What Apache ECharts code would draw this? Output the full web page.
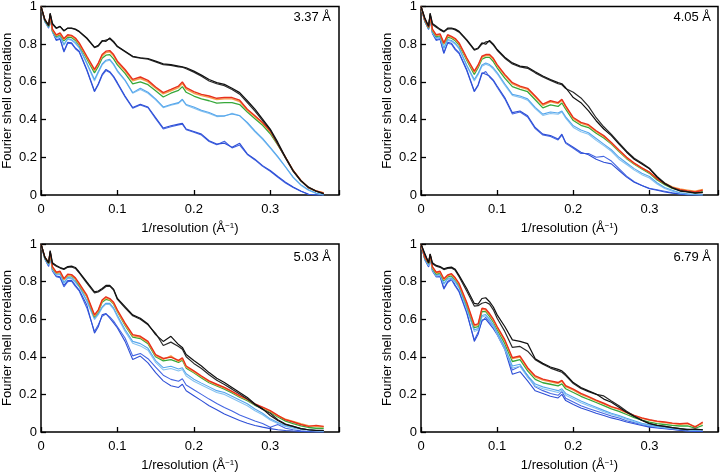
<!DOCTYPE html>
<html><head><meta charset="utf-8">
<script src="https://cdn.jsdelivr.net/npm/echarts@6/dist/echarts.min.js"></script>
<style>html,body{margin:0;padding:0;background:#fff}#c{width:721px;height:473px}</style>
</head><body><div id="c"></div>
<script>
// shared x positions (1/resolution, 1/Å)
const xs = [0,0.005,0.01,0.012,0.015,0.02,0.025,0.03,0.035,0.04,0.045,0.05,
  0.06,0.07,0.075,0.08,0.085,0.09,0.095,0.1,
  0.11,0.12,0.13,0.14,0.15,0.16,0.17,0.18,0.185,0.19,
  0.2,0.21,0.22,0.23,0.24,0.25,0.26,0.27,0.28,0.29,0.3,0.31,0.32,0.33,0.34,0.35,0.36,0.37];

const panelTitles = ['3.37 Å','4.05 Å','5.03 Å','6.79 Å'];
const xTickValues = [0,0.1,0.2,0.3];
const yTickValues = [0,0.2,0.4,0.6,0.8,1];

// ---- Panel 1 (3.37 Å)
const p1Black1 = [1.0,0.93,0.9,0.965,0.91,0.886,0.895,0.872,0.886,0.886,0.88,0.868,
  0.833,0.784,0.794,0.819,0.815,0.833,0.815,0.789,
  0.763,0.736,0.728,0.724,0.71,0.696,0.692,0.684,0.68,0.675,
  0.657,0.636,0.613,0.596,0.587,0.566,0.543,0.5,0.455,0.402,0.35,0.279,0.2,0.13,0.077,0.042,0.021,0.007];
const p1Black2 = [1.0,0.93,0.9,0.96,0.905,0.884,0.893,0.87,0.884,0.884,0.878,0.866,
  0.83,0.782,0.79,0.815,0.822,0.828,0.81,0.786,
  0.76,0.733,0.726,0.72,0.706,0.692,0.688,0.68,0.678,0.67,
  0.652,0.63,0.605,0.59,0.58,0.56,0.535,0.49,0.445,0.395,0.345,0.27,0.195,0.125,0.075,0.04,0.02,0.006];
const p1Red = [1.0,0.93,0.9,0.96,0.88,0.85,0.86,0.83,0.85,0.847,0.833,0.807,
  0.736,0.666,0.7,0.745,0.763,0.766,0.745,0.71,
  0.666,0.613,0.626,0.608,0.573,0.543,0.56,0.578,0.6,0.569,
  0.548,0.534,0.525,0.513,0.517,0.517,0.503,0.455,0.42,0.385,0.34,0.27,0.2,0.13,0.077,0.039,0.021,0.01];
const p1Orange = [1.0,0.93,0.9,0.955,0.875,0.845,0.855,0.825,0.845,0.842,0.828,0.8,
  0.73,0.66,0.694,0.738,0.756,0.76,0.738,0.703,
  0.658,0.606,0.618,0.6,0.566,0.536,0.553,0.57,0.592,0.562,
  0.54,0.527,0.518,0.506,0.51,0.51,0.496,0.45,0.415,0.38,0.336,0.268,0.198,0.13,0.078,0.04,0.022,0.012];
const p1Green = [1.0,0.925,0.895,0.95,0.87,0.84,0.85,0.818,0.838,0.835,0.82,0.795,
  0.722,0.648,0.682,0.725,0.742,0.745,0.722,0.69,
  0.645,0.59,0.6,0.585,0.553,0.52,0.54,0.555,0.575,0.545,
  0.525,0.51,0.5,0.487,0.49,0.49,0.48,0.44,0.405,0.37,0.325,0.265,0.2,0.13,0.075,0.038,0.02,0.01];
const p1Light1 = [1.0,0.925,0.89,0.945,0.865,0.835,0.842,0.8,0.83,0.824,0.808,0.785,
  0.7,0.613,0.655,0.695,0.715,0.72,0.695,0.66,
  0.61,0.543,0.566,0.545,0.51,0.467,0.48,0.49,0.508,0.48,
  0.467,0.45,0.438,0.42,0.42,0.43,0.42,0.385,0.34,0.3,0.253,0.204,0.15,0.095,0.055,0.028,0.01,0.0];
const p1Light2 = [1.0,0.92,0.89,0.94,0.862,0.832,0.838,0.795,0.826,0.82,0.803,0.78,
  0.695,0.605,0.648,0.69,0.71,0.715,0.69,0.655,
  0.606,0.54,0.56,0.54,0.505,0.463,0.476,0.486,0.503,0.476,
  0.46,0.445,0.432,0.416,0.418,0.434,0.422,0.38,0.335,0.295,0.248,0.2,0.147,0.092,0.052,0.025,0.008,0.0];
const p1Blue1 = [1.0,0.92,0.89,0.95,0.87,0.824,0.83,0.763,0.81,0.807,0.78,0.763,
  0.666,0.552,0.59,0.64,0.666,0.654,0.63,0.596,
  0.525,0.464,0.482,0.467,0.411,0.355,0.367,0.376,0.38,0.35,
  0.337,0.323,0.288,0.27,0.275,0.253,0.274,0.218,0.19,0.156,0.13,0.098,0.068,0.042,0.021,0.004,0.0,0.0];
const p1Blue2 = [1.0,0.92,0.885,0.945,0.865,0.82,0.826,0.758,0.805,0.803,0.776,0.758,
  0.66,0.548,0.585,0.634,0.66,0.65,0.625,0.59,
  0.52,0.46,0.478,0.463,0.405,0.35,0.362,0.372,0.376,0.346,
  0.333,0.318,0.284,0.266,0.285,0.25,0.265,0.215,0.186,0.152,0.126,0.094,0.064,0.04,0.02,0.004,0.0,0.0];

// ---- Panel 2 (4.05 Å)
const p2Black1 = [1.0,0.94,0.895,0.965,0.91,0.895,0.88,0.868,0.885,0.886,0.88,0.868,
  0.824,0.772,0.78,0.807,0.8,0.82,0.8,0.772,
  0.731,0.701,0.684,0.678,0.654,0.631,0.613,0.596,0.59,0.569,
  0.517,0.49,0.446,0.394,0.35,0.315,0.27,0.227,0.19,0.165,0.139,0.095,0.06,0.037,0.021,0.016,0.01,0.014];
const p2Black2 = [1.0,0.935,0.895,0.96,0.905,0.89,0.876,0.865,0.88,0.882,0.876,0.864,
  0.82,0.768,0.776,0.8,0.812,0.815,0.795,0.768,
  0.726,0.695,0.68,0.672,0.648,0.626,0.608,0.59,0.585,0.565,
  0.545,0.515,0.47,0.41,0.362,0.322,0.276,0.232,0.195,0.17,0.142,0.098,0.064,0.04,0.024,0.018,0.012,0.012];
const p2Red = [1.0,0.93,0.89,0.955,0.88,0.85,0.855,0.807,0.85,0.842,0.83,0.807,
  0.728,0.657,0.69,0.736,0.745,0.745,0.725,0.692,
  0.64,0.596,0.578,0.566,0.525,0.482,0.5,0.49,0.508,0.473,
  0.411,0.385,0.373,0.341,0.315,0.279,0.239,0.2,0.169,0.144,0.121,0.086,0.06,0.039,0.028,0.021,0.016,0.025];
const p2Orange = [1.0,0.93,0.89,0.95,0.875,0.846,0.85,0.802,0.845,0.838,0.825,0.802,
  0.722,0.65,0.684,0.73,0.74,0.74,0.72,0.686,
  0.634,0.59,0.572,0.56,0.52,0.476,0.494,0.485,0.502,0.468,
  0.405,0.38,0.368,0.336,0.31,0.275,0.235,0.197,0.166,0.142,0.12,0.088,0.063,0.043,0.032,0.026,0.02,0.03];
const p2Green = [1.0,0.925,0.885,0.95,0.87,0.84,0.845,0.8,0.836,0.832,0.818,0.795,
  0.715,0.64,0.675,0.72,0.73,0.73,0.708,0.675,
  0.62,0.575,0.56,0.548,0.505,0.462,0.478,0.47,0.488,0.455,
  0.395,0.37,0.358,0.328,0.302,0.27,0.23,0.193,0.163,0.138,0.115,0.08,0.055,0.035,0.024,0.018,0.012,0.018];
const p2Light1 = [1.0,0.92,0.885,0.945,0.865,0.835,0.84,0.78,0.825,0.82,0.805,0.78,
  0.69,0.613,0.645,0.69,0.7,0.692,0.675,0.65,
  0.59,0.534,0.525,0.51,0.465,0.429,0.44,0.435,0.446,0.415,
  0.367,0.345,0.33,0.3,0.27,0.24,0.2,0.17,0.14,0.115,0.098,0.065,0.04,0.025,0.012,0.006,0.003,0.0];
const p2Light2 = [1.0,0.92,0.882,0.94,0.86,0.83,0.835,0.775,0.82,0.815,0.8,0.775,
  0.684,0.605,0.638,0.683,0.694,0.686,0.668,0.643,
  0.582,0.528,0.518,0.503,0.458,0.422,0.432,0.428,0.44,0.408,
  0.358,0.336,0.322,0.29,0.262,0.232,0.19,0.162,0.132,0.108,0.09,0.058,0.035,0.02,0.01,0.005,0.002,0.0];
const p2Blue1 = [1.0,0.92,0.88,0.945,0.86,0.825,0.83,0.754,0.81,0.805,0.775,0.755,
  0.666,0.552,0.585,0.648,0.64,0.631,0.61,0.578,
  0.517,0.437,0.446,0.42,0.358,0.323,0.315,0.297,0.323,0.279,
  0.253,0.227,0.214,0.19,0.174,0.165,0.13,0.095,0.068,0.05,0.033,0.025,0.016,0.01,0.005,0.0,0.0,0.0];
const p2Blue2 = [1.0,0.92,0.878,0.94,0.856,0.82,0.826,0.75,0.805,0.8,0.77,0.75,
  0.66,0.548,0.58,0.642,0.655,0.626,0.605,0.572,
  0.51,0.43,0.44,0.414,0.352,0.318,0.31,0.292,0.318,0.274,
  0.248,0.22,0.22,0.2,0.205,0.18,0.14,0.1,0.07,0.05,0.036,0.028,0.02,0.012,0.006,0.002,0.0,0.0];

// ---- Panel 3 (5.03 Å)
const p3Black1 = [1.0,0.93,0.9,0.965,0.9,0.886,0.875,0.868,0.88,0.882,0.875,0.851,
  0.798,0.746,0.75,0.763,0.78,0.78,0.76,0.71,
  0.667,0.623,0.605,0.574,0.518,0.482,0.509,0.465,0.45,0.412,
  0.38,0.351,0.316,0.286,0.263,0.237,0.21,0.184,0.149,0.123,0.088,0.061,0.04,0.03,0.018,0.012,0.009,0.009];
const p3Black2 = [1.0,0.93,0.9,0.96,0.895,0.882,0.872,0.865,0.876,0.878,0.87,0.846,
  0.792,0.74,0.745,0.758,0.774,0.776,0.755,0.705,
  0.66,0.618,0.6,0.57,0.525,0.46,0.478,0.455,0.44,0.4,
  0.365,0.338,0.305,0.275,0.253,0.228,0.202,0.176,0.145,0.12,0.1,0.065,0.042,0.03,0.018,0.012,0.008,0.008];
const p3Red = [1.0,0.93,0.9,0.96,0.88,0.85,0.855,0.816,0.84,0.837,0.82,0.79,
  0.728,0.623,0.65,0.702,0.719,0.71,0.69,0.649,
  0.579,0.518,0.509,0.482,0.412,0.391,0.398,0.381,0.395,0.351,
  0.325,0.298,0.272,0.254,0.237,0.216,0.193,0.175,0.149,0.132,0.114,0.088,0.065,0.053,0.04,0.03,0.035,0.03];
const p3Orange = [1.0,0.93,0.9,0.955,0.875,0.846,0.85,0.81,0.835,0.832,0.815,0.785,
  0.722,0.617,0.644,0.696,0.713,0.704,0.684,0.643,
  0.573,0.512,0.503,0.476,0.406,0.386,0.405,0.376,0.388,0.346,
  0.32,0.294,0.268,0.25,0.234,0.213,0.19,0.172,0.146,0.13,0.11,0.085,0.068,0.056,0.044,0.034,0.03,0.028];
const p3Green = [1.0,0.925,0.895,0.95,0.87,0.845,0.85,0.81,0.832,0.83,0.812,0.78,
  0.72,0.612,0.64,0.69,0.705,0.7,0.68,0.64,
  0.567,0.505,0.497,0.47,0.4,0.378,0.385,0.37,0.382,0.34,
  0.315,0.288,0.262,0.245,0.228,0.208,0.185,0.167,0.142,0.125,0.105,0.08,0.058,0.045,0.033,0.024,0.02,0.02];
const p3Light1 = [1.0,0.925,0.89,0.945,0.865,0.84,0.842,0.795,0.822,0.82,0.8,0.775,
  0.7,0.605,0.63,0.665,0.685,0.684,0.66,0.62,
  0.545,0.482,0.47,0.445,0.38,0.342,0.35,0.335,0.342,0.31,
  0.281,0.26,0.24,0.22,0.21,0.19,0.17,0.15,0.122,0.1,0.07,0.05,0.035,0.025,0.018,0.012,0.008,0.005];
const p3Light2 = [1.0,0.92,0.888,0.94,0.86,0.835,0.838,0.79,0.818,0.815,0.795,0.77,
  0.694,0.598,0.624,0.66,0.68,0.678,0.654,0.612,
  0.535,0.472,0.458,0.435,0.37,0.33,0.338,0.325,0.332,0.298,
  0.27,0.25,0.23,0.21,0.2,0.18,0.16,0.14,0.113,0.092,0.064,0.045,0.03,0.02,0.014,0.01,0.006,0.004];
const p3Blue1 = [1.0,0.92,0.885,0.945,0.86,0.83,0.825,0.78,0.805,0.807,0.78,0.755,
  0.675,0.526,0.56,0.623,0.63,0.605,0.58,0.553,
  0.482,0.386,0.404,0.368,0.316,0.272,0.246,0.237,0.254,0.219,
  0.193,0.167,0.14,0.118,0.096,0.079,0.061,0.047,0.035,0.026,0.018,0.012,0.008,0.005,0.003,0.0,0.0,0.0];
const p3Blue2 = [1.0,0.92,0.88,0.94,0.855,0.826,0.82,0.772,0.8,0.802,0.775,0.75,
  0.66,0.535,0.57,0.615,0.628,0.612,0.59,0.56,
  0.5,0.405,0.418,0.39,0.345,0.302,0.28,0.27,0.283,0.25,
  0.225,0.2,0.175,0.152,0.13,0.112,0.09,0.075,0.058,0.045,0.025,0.04,0.02,0.012,0.006,0.003,0.0,0.0];

// ---- Panel 4 (6.79 Å)
const p4Black1 = [1.0,0.95,0.9,0.947,0.9,0.886,0.88,0.868,0.875,0.877,0.865,0.833,
  0.763,0.684,0.68,0.71,0.714,0.693,0.665,0.623,
  0.561,0.49,0.482,0.47,0.39,0.365,0.346,0.333,0.325,0.307,
  0.263,0.237,0.219,0.202,0.175,0.158,0.132,0.105,0.082,0.061,0.044,0.035,0.03,0.023,0.018,0.012,0.016,0.012];
const p4Black2 = [1.0,0.945,0.9,0.945,0.895,0.882,0.876,0.864,0.87,0.872,0.86,0.826,
  0.75,0.67,0.672,0.685,0.69,0.68,0.65,0.605,
  0.535,0.45,0.455,0.43,0.385,0.36,0.34,0.325,0.318,0.3,
  0.258,0.232,0.215,0.2,0.192,0.165,0.14,0.11,0.085,0.064,0.046,0.036,0.03,0.024,0.018,0.014,0.014,0.012];
const p4Red = [1.0,0.93,0.9,0.945,0.88,0.85,0.855,0.815,0.835,0.842,0.82,0.79,
  0.69,0.57,0.575,0.658,0.654,0.63,0.6,0.561,
  0.491,0.395,0.404,0.342,0.298,0.281,0.272,0.263,0.275,0.246,
  0.228,0.205,0.188,0.17,0.153,0.135,0.123,0.105,0.088,0.075,0.065,0.058,0.053,0.047,0.044,0.047,0.026,0.053];
const p4Orange = [1.0,0.93,0.9,0.94,0.875,0.846,0.85,0.81,0.83,0.838,0.815,0.785,
  0.684,0.564,0.57,0.652,0.648,0.624,0.594,0.555,
  0.485,0.39,0.398,0.336,0.292,0.276,0.267,0.258,0.27,0.241,
  0.223,0.2,0.184,0.166,0.15,0.132,0.12,0.102,0.086,0.073,0.063,0.056,0.05,0.045,0.041,0.043,0.03,0.046];
const p4Green = [1.0,0.925,0.895,0.94,0.87,0.84,0.845,0.805,0.825,0.83,0.81,0.78,
  0.675,0.555,0.56,0.64,0.64,0.615,0.585,0.545,
  0.47,0.375,0.385,0.325,0.28,0.262,0.254,0.245,0.256,0.23,
  0.21,0.19,0.173,0.157,0.14,0.123,0.11,0.093,0.077,0.063,0.053,0.045,0.04,0.035,0.032,0.033,0.02,0.035];
const p4Light1 = [1.0,0.92,0.89,0.935,0.865,0.835,0.84,0.79,0.818,0.82,0.8,0.77,
  0.66,0.544,0.55,0.62,0.625,0.6,0.57,0.53,
  0.45,0.351,0.36,0.3,0.255,0.24,0.23,0.22,0.23,0.205,
  0.185,0.165,0.148,0.132,0.115,0.1,0.088,0.073,0.06,0.047,0.038,0.03,0.025,0.02,0.016,0.014,0.01,0.012];
const p4Light2 = [1.0,0.92,0.885,0.93,0.86,0.83,0.835,0.785,0.812,0.815,0.795,0.765,
  0.652,0.535,0.542,0.612,0.618,0.592,0.562,0.52,
  0.44,0.34,0.35,0.29,0.245,0.23,0.22,0.21,0.222,0.196,
  0.176,0.156,0.14,0.125,0.108,0.094,0.082,0.068,0.055,0.043,0.034,0.027,0.022,0.018,0.014,0.011,0.008,0.01];
const p4Blue1 = [1.0,0.92,0.88,0.935,0.86,0.83,0.83,0.765,0.8,0.816,0.78,0.75,
  0.64,0.482,0.52,0.596,0.6,0.575,0.55,0.517,
  0.439,0.307,0.321,0.272,0.219,0.205,0.19,0.181,0.2,0.167,
  0.146,0.128,0.114,0.1,0.088,0.075,0.065,0.053,0.044,0.035,0.026,0.021,0.018,0.014,0.01,0.006,0.004,0.003];
const p4Blue2 = [1.0,0.915,0.878,0.93,0.855,0.825,0.826,0.76,0.795,0.81,0.775,0.745,
  0.632,0.49,0.53,0.588,0.61,0.585,0.56,0.525,
  0.45,0.33,0.35,0.3,0.24,0.22,0.205,0.195,0.215,0.18,
  0.16,0.14,0.125,0.112,0.098,0.085,0.074,0.06,0.05,0.04,0.03,0.024,0.02,0.015,0.01,0.006,0.004,0.003];

const panels = [
  [p1Blue2,p1Blue1,p1Light2,p1Light1,p1Green,p1Orange,p1Red,p1Black2,p1Black1],
  [p2Blue2,p2Blue1,p2Light2,p2Light1,p2Green,p2Orange,p2Red,p2Black2,p2Black1],
  [p3Blue2,p3Blue1,p3Light2,p3Light1,p3Green,p3Orange,p3Red,p3Black2,p3Black1],
  [p4Blue2,p4Blue1,p4Light2,p4Light1,p4Green,p4Orange,p4Red,p4Black2,p4Black1]
];
const lineColors = ['#4466e2','#2e4fd6','#86c2f0','#55a6ec','#36a83a','#f4a04c','#e8301c','#2a2a2a','#111111'];
const lineWidths = [1.1,1.1,1.1,1.1,1.3,1.4,1.4,1.2,1.2];

const FONT = 'Liberation Sans, Arial, Helvetica, sans-serif';
const gridPos = [
  {left:41, top:5, width:298, height:190},
  {left:421, top:5, width:298, height:190},
  {left:41, top:244, width:298, height:190},
  {left:421, top:244, width:298, height:190}
];
const titlePos = [
  {right:721-331, top:11},
  {right:721-711, top:11},
  {right:721-331, top:251},
  {right:721-711, top:251}
];

const chart = echarts.init(document.getElementById('c'), null, {renderer:'canvas'});
const grid = [], xAxis = [], yAxis = [], series = [], title = [];
panels.forEach((lines, i) => {
  grid.push(Object.assign({show:true, borderColor:'#000', borderWidth:1.5, backgroundColor:'transparent'}, gridPos[i]));
  title.push(Object.assign({text:panelTitles[i], padding:0,
    textStyle:{fontSize:13, fontWeight:'normal', color:'#000', fontFamily:FONT}}, titlePos[i]));
  xAxis.push({
    type:'value', gridIndex:i, min:0, max:0.39, interval:0.1,
    axisLine:{show:false}, splitLine:{show:false},
    axisTick:{inside:true, length:5, lineStyle:{color:'#000', width:1.3}},
    axisLabel:{color:'#000', fontSize:13, fontFamily:FONT, margin:8,
      formatter: v => xTickValues.some(t => Math.abs(t - v) < 1e-9) ? String(+v.toFixed(1)) : ''},
    name:'1/resolution (Å{s|−1})', nameLocation:'middle', nameGap:27, nameMoveOverlap:false,
    nameTextStyle:{color:'#000', fontSize:13, fontFamily:FONT,
      rich:{s:{fontSize:8, fontFamily:FONT, color:'#000', verticalAlign:'top'}}}
  });
  yAxis.push({
    type:'value', gridIndex:i, min:0, max:1, interval:0.2,
    axisLine:{show:false}, splitLine:{show:false},
    axisTick:{inside:true, length:5, lineStyle:{color:'#000', width:1.3}},
    axisLabel:{color:'#000', fontSize:13, fontFamily:FONT, margin:4,
      formatter: v => yTickValues.some(t => Math.abs(t - v) < 1e-9) ? String(+v.toFixed(1)) : ''},
    name:'Fourier shell correlation', nameLocation:'middle', nameGap:27, nameRotate:90, nameMoveOverlap:false,
    nameTextStyle:{color:'#000', fontSize:13, fontFamily:FONT}
  });
  lines.forEach((ys, k) => {
    series.push({
      type:'line', xAxisIndex:i, yAxisIndex:i, showSymbol:false, symbol:'none', silent:true,
      animation:false, clip:true,
      lineStyle:{color:lineColors[k], width:lineWidths[k]},
      data: xs.map((x, j) => [x, ys[j]])
    });
  });
});

chart.setOption({animation:false, backgroundColor:'#fff', title, grid, xAxis, yAxis, series});
</script>
</body></html>
